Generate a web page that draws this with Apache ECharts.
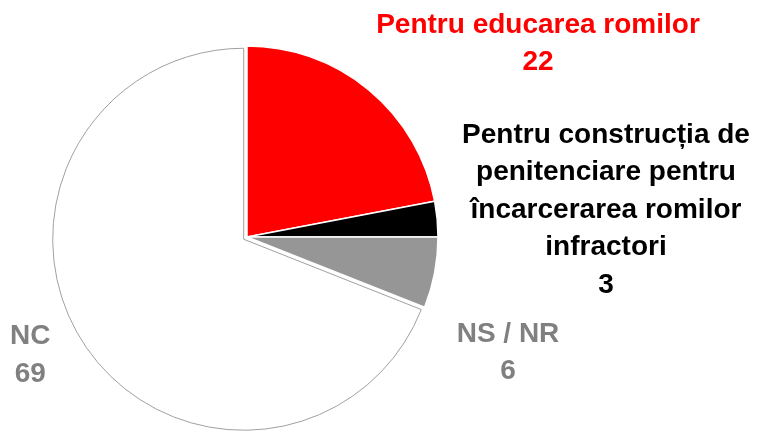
<!DOCTYPE html>
<html>
<head>
<meta charset="utf-8">
<script src="https://cdn.jsdelivr.net/npm/echarts@6/dist/echarts.min.js"></script>
<style>
  html, body { margin: 0; padding: 0; background: #fff; }
</style>
</head>
<body>
<div id="chart" style="width: 761px; height: 431px"></div>
<script>
// valorile
const categories = [
  "Pentru educarea romilor",
  "Pentru construcția de\npenitenciare pentru\nîncarcerarea romilor\ninfractori",
  "NS / NR",
  "NC",
];
const values = [22, 3, 6, 69];

const sliceColors = ["#ff0000", "#000000", "#969696", "#ffffff"];
const labelColors = ["#ff0000", "#000000", "#808080", "#808080"];
// pozitia etichetelor (centru bloc text)
const labelPos = [
  [538, 44],
  [606, 210],
  [508, 353],
  [30, 337],
];

let chart = echarts.init(document.getElementById("chart"));

let option = {
  animation: false,
  series: [
    {
      type: "pie",
      center: [247, 237],
      radius: 191,
      startAngle: 90,
      clockwise: true,
      avoidLabelOverlap: false,
      selectedMode: "multiple",
      selectedOffset: 4,
      emphasis: { disabled: true },
      label: {
        show: true,
        position: "outside",
        formatter: "{b}\n{c}",
        fontFamily: "Liberation Sans, Arial, sans-serif",
        fontWeight: "bold",
        fontSize: 28,
        lineHeight: 37.5,
        align: "center",
      },
      labelLine: { show: false },
      labelLayout: (params) => {
        let p = labelPos[params.dataIndex];
        // eticheta NC e impinsa spre dreapta de layout, o corectam cu dx
        return {
          x: p[0],
          y: p[1],
          dx: params.dataIndex === 3 ? -8 : 0,
          align: "center",
          verticalAlign: "middle",
        };
      },
      data: categories.map((name, i) => ({
        name: name,
        value: values[i],
        selected: i === 3,
        itemStyle: {
          color: sliceColors[i],
          borderColor: i === 3 ? "#a0a0a0" : "#ffffff",
          borderWidth: i === 3 ? 1 : 1.5,
        },
        label: { color: labelColors[i] },
      })),
    },
  ],
};

option && chart.setOption(option);
</script>
</body>
</html>
